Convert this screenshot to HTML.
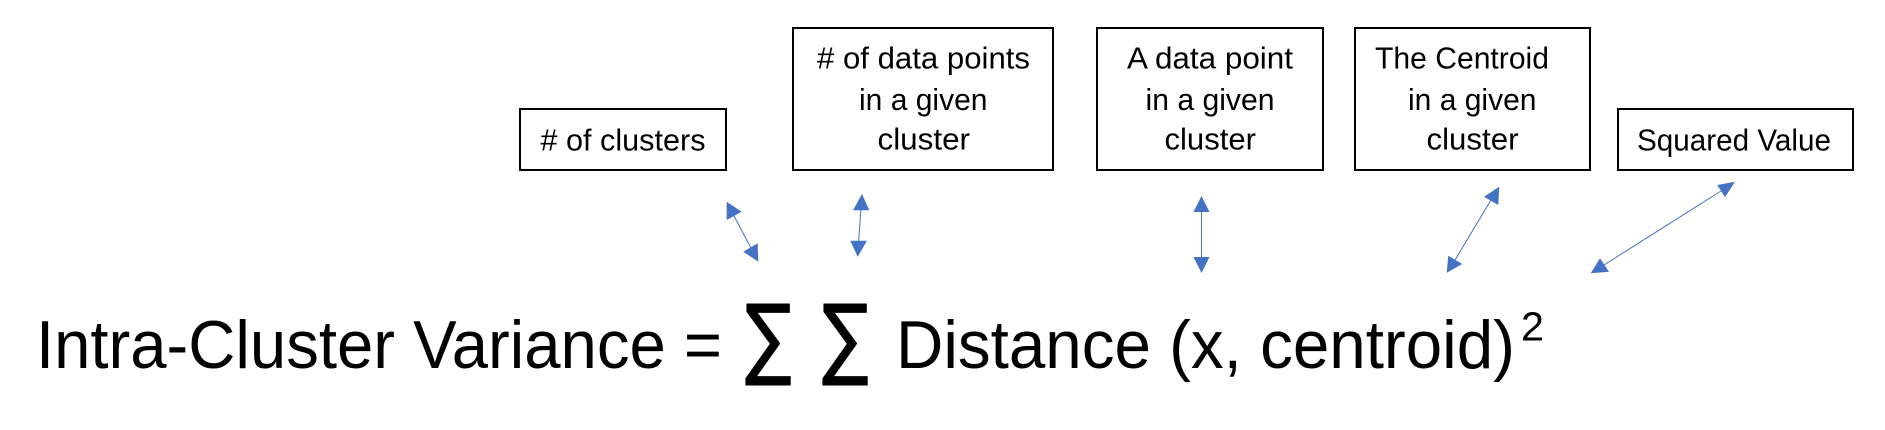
<!DOCTYPE html>
<html>
<head>
<meta charset="utf-8">
<style>
html,body{margin:0;padding:0;background:#fff;width:1885px;height:430px;overflow:hidden}
svg{display:block}
text{font-family:"Liberation Sans",sans-serif;fill:#000}
.s{font-size:31px}
.b{font-size:68px}
.g{font-family:"DejaVu Sans",sans-serif;font-size:89px;stroke:#000;stroke-width:1px;stroke-linejoin:round}
rect{fill:#fff;stroke:#000;stroke-width:2}
line{stroke:#4472C4;stroke-width:1}
polygon{fill:#4472C4}
</style>
</head>
<body>
<svg width="1885" height="430" viewBox="0 0 1885 430" xmlns="http://www.w3.org/2000/svg">
<rect x="520" y="109" width="206" height="61"/>
<rect x="793" y="28" width="260" height="142"/>
<rect x="1097" y="28" width="226" height="142"/>
<rect x="1355" y="28" width="235" height="142"/>
<rect x="1618" y="109" width="235" height="61"/>

<text class="s" x="540.5" y="150.500" textLength="165" lengthAdjust="spacingAndGlyphs"># of clusters</text>
<text class="s" x="817" y="68.500" textLength="213" lengthAdjust="spacingAndGlyphs"># of data points</text>
<text class="s" x="859" y="110" textLength="128.500" lengthAdjust="spacingAndGlyphs">in a given</text>
<text class="s" x="877.5" y="149.500" textLength="92.500" lengthAdjust="spacingAndGlyphs">cluster</text>
<text class="s" x="1127" y="68.500" textLength="166" lengthAdjust="spacingAndGlyphs">A data point</text>
<text class="s" x="1145.5" y="110" textLength="129" lengthAdjust="spacingAndGlyphs">in a given</text>
<text class="s" x="1164.5" y="149.500" textLength="91.500" lengthAdjust="spacingAndGlyphs">cluster</text>
<text class="s" x="1375" y="68.500" textLength="174" lengthAdjust="spacingAndGlyphs">The Centroid</text>
<text class="s" x="1408" y="110" textLength="128.500" lengthAdjust="spacingAndGlyphs">in a given</text>
<text class="s" x="1426.5" y="149.500" textLength="92" lengthAdjust="spacingAndGlyphs">cluster</text>
<text class="s" x="1637" y="150.500" textLength="194" lengthAdjust="spacingAndGlyphs">Squared Value</text>

<line x1="734" y1="216" x2="751" y2="248"/>
<polygon points="726.700,201.700 741.700,211.700 726.700,220"/>
<polygon points="758.300,261.700 743.300,251.700 757.700,243.300"/>
<line x1="861" y1="208" x2="858.500" y2="243"/>
<polygon points="862,194 869.300,210.300 853,210.300"/>
<polygon points="857.700,256.700 850.300,240.700 867,240.700"/>
<line x1="1201.500" y1="210" x2="1201.500" y2="259"/>
<polygon points="1201.500,196 1209.500,212 1193.500,212"/>
<polygon points="1201.500,273 1193.500,257 1209.500,257"/>
<line x1="1491" y1="200" x2="1455" y2="260"/>
<polygon points="1499.300,186.700 1484,196.700 1498.300,205"/>
<polygon points="1446.700,272.700 1448.300,255.700 1462.300,264"/>
<line x1="1721" y1="191" x2="1604" y2="265"/>
<polygon points="1735,181.700 1717.300,185 1725,197.300"/>
<polygon points="1590.700,273.300 1600,258.300 1609,271.700"/>

<text class="b" x="36" y="368" textLength="686" lengthAdjust="spacingAndGlyphs">Intra-Cluster Variance =</text>
<text class="b" x="896" y="368" textLength="619" lengthAdjust="spacingAndGlyphs">Distance (x, centroid)</text>
<text x="1521" y="340.500" textLength="23" lengthAdjust="spacingAndGlyphs" style="font-size:41px">2</text>

<text class="g" transform="translate(745,368) scale(.78,1)" x="0" y="0">∑</text>
<text class="g" transform="translate(822,368) scale(.78,1)" x="0" y="0">∑</text>
</svg>
</body>
</html>
